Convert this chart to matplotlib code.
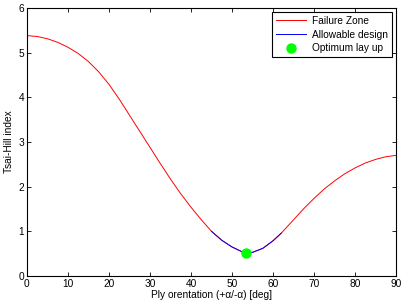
import numpy as np
from matplotlib import pyplot as plt

plt.rcParams['font.family'] = ['Liberation Sans', 'DejaVu Sans']

# Tsai-Hill index
angle = [0, 2.5, 5, 7.5, 10, 12.5, 15, 17.5, 20, 22.5, 25, 27.5, 30, 32.5, 35,
         37.5, 40, 42.5, 45, 47.5, 50, 52.5, 53.5, 55, 57.5, 60, 62, 62.5, 65,
         67.5, 70, 72.5, 75, 77.5, 80, 82.5, 85, 87.5, 90]
index = [5.38, 5.36, 5.31, 5.23, 5.12, 4.98, 4.80, 4.57, 4.29, 3.96, 3.60, 3.24,
         2.88, 2.52, 2.17, 1.84, 1.54, 1.26, 1.00, 0.80, 0.65, 0.54, 0.52, 0.53,
         0.62, 0.79, 0.96, 1.01, 1.26, 1.51, 1.74, 1.95, 2.13, 2.29, 2.42, 2.53,
         2.61, 2.67, 2.70]

# allowable part (index <= 1)
ok_angle = [45, 47.5, 50, 52.5, 53.5, 55, 57.5, 60, 62]
ok_index = [1.00, 0.80, 0.65, 0.54, 0.52, 0.53, 0.62, 0.79, 0.96]

opt_angle = [53.5]
opt_index = [0.52]

fig = plt.figure(figsize=(4.01, 3.03), dpi=100)
ax = fig.add_axes([0.067, 0.089, 0.921, 0.885])

ax.plot(angle, index, color='red', lw=0.7, label='Failure Zone')
ax.plot(ok_angle, ok_index, color='blue', lw=0.7, label='Allowable design')
ax.plot(opt_angle, opt_index, 'o', color='#00ff00', ms=6.5, ls='none', label='Optimum lay up')

ax.set_xlim(0, 90)
ax.set_ylim(0, 6)
ax.set_xticks(np.arange(0, 91, 10))
ax.set_yticks(np.arange(0, 7, 1))
ax.tick_params(direction='in', top=True, right=True, labelsize=7.3, length=3, width=0.6, pad=2)
for s in ax.spines.values():
    s.set_linewidth(0.8)

ax.set_xlabel('Ply orentation (+\u03b1/-\u03b1) [deg]', fontsize=7.3, labelpad=1)
ax.set_ylabel('Tsai-Hill index', fontsize=7.3, labelpad=3)

leg = ax.legend(loc='upper right', fontsize=7.3, fancybox=False, framealpha=1,
                edgecolor='black', borderaxespad=0.4, handlelength=3.0,
                borderpad=0.4, labelspacing=0.35, handletextpad=0.6)
leg.get_frame().set_linewidth(0.8)

plt.savefig('out.png', dpi=100)
